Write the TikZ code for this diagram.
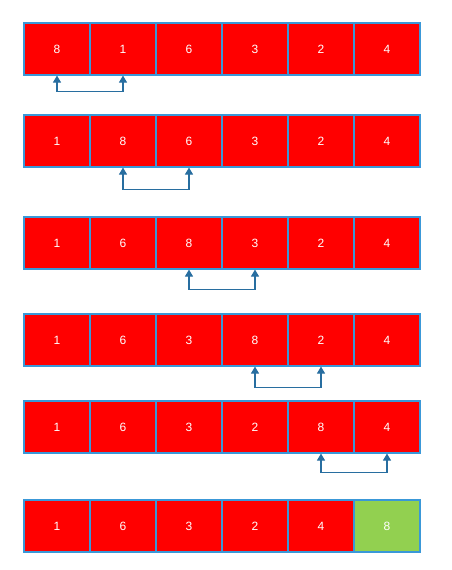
\documentclass[tikz,border=0pt]{standalone}
\usepackage{fontspec}
\setmainfont{Liberation Sans}
\usetikzlibrary{arrows.meta}
\definecolor{cellred}{RGB}{255,0,0}
\definecolor{cellgreen}{RGB}{146,208,80}
\definecolor{cellborder}{RGB}{58,152,216}
\definecolor{arrowblue}{RGB}{40,110,160}
\tikzset{
  cell/.style={draw=cellborder, line width=1.1pt, fill=cellred, minimum width=66pt, minimum height=52pt, inner sep=0pt, text=white, font=\fontsize{12}{14}\selectfont},
  done/.style={fill=cellgreen},
  swaparrow/.style={draw=arrowblue, line width=1.1pt, {Triangle[width=8pt,length=7pt]}-{Triangle[width=8pt,length=7pt]}}
}
\begin{document}
\begin{tikzpicture}[x=1pt,y=-1pt]
\useasboundingbox (0,0) rectangle (451,570);
\foreach \r/\y/\vals in {1/49/{8,1,6,3,2,4},2/141/{1,8,6,3,2,4},3/243/{1,6,8,3,2,4},4/340/{1,6,3,8,2,4},5/427/{1,6,3,2,8,4}}{
  \foreach \v [count=\c] in \vals {
    \node[cell] (r\r c\c) at ({57+66*(\c-1)},\y) {\v};
  }
}
\foreach \v [count=\c] in {1,6,3,2,4} {
  \node[cell] (r6c\c) at ({57+66*(\c-1)},526) {\v};
}
\node[cell,done] (r6c6) at (387,526) {8};
\draw[swaparrow] (r1c1.south) -- ++(0,16) -| (r1c2.south);
\draw[swaparrow] (r2c2.south) -- ++(0,22) -| (r2c3.south);
\draw[swaparrow] (r3c3.south) -- ++(0,20) -| (r3c4.south);
\draw[swaparrow] (r4c4.south) -- ++(0,21) -| (r4c5.south);
\draw[swaparrow] (r5c5.south) -- ++(0,19) -| (r5c6.south);
\end{tikzpicture}
\end{document}
